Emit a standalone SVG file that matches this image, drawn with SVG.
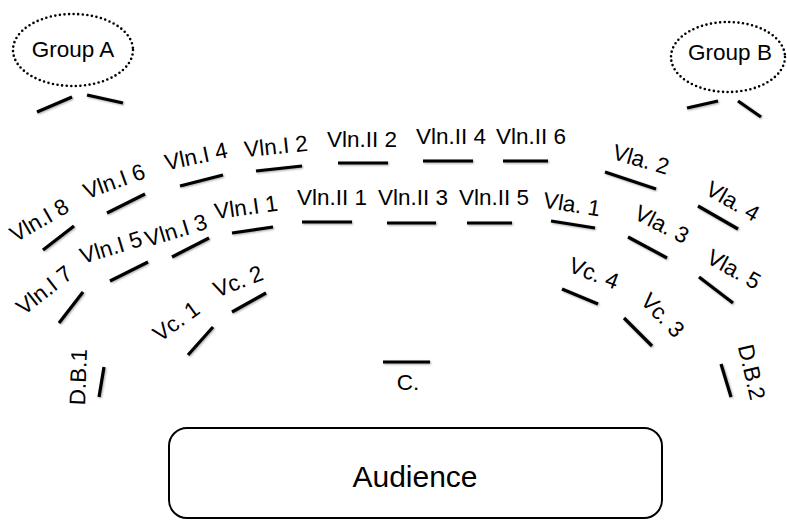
<svg xmlns="http://www.w3.org/2000/svg" width="787" height="520" viewBox="0 0 787 520">
  <defs>
    <!-- soft drop shadow under the seat marks -->
    <filter id="soft" filterUnits="userSpaceOnUse" x="0" y="0" width="787" height="520">
      <feGaussianBlur in="SourceAlpha" stdDeviation="1"/>
      <feOffset dx="0.5" dy="1"/>
      <feComponentTransfer><feFuncA type="linear" slope="0.35"/></feComponentTransfer>
      <feMerge><feMergeNode/><feMergeNode in="SourceGraphic"/></feMerge>
    </filter>
  </defs>
  <style>
    text { font-family: "Liberation Sans", Arial, sans-serif; fill: #000; }
    .lbl { font-size: 22.5px; text-anchor: middle; }
    .seat { stroke: #000; stroke-width: 3.2; stroke-linecap: butt; fill: none; filter: url(#soft); }
    .grp { fill: none; stroke: #000; stroke-width: 2.6; stroke-dasharray: 0 4.6; stroke-linecap: round; }
    .hall { fill: #fff; stroke: #000; stroke-width: 2; }
  </style>

  <rect width="787" height="520" fill="#fff"/>

  <!-- off-stage groups -->
  <g id="group-a">
    <ellipse class="grp" cx="73" cy="50" rx="60" ry="36"/>
    <text x="73" y="57" style="font-size:22.5px;text-anchor:middle">Group A</text>
    <line class="seat" x1="37" y1="112" x2="72" y2="97"/>
    <line class="seat" x1="87" y1="95" x2="123" y2="103"/>
  </g>
  <g id="group-b">
    <ellipse class="grp" cx="728" cy="57" rx="57" ry="35"/>
    <text x="730" y="60" style="font-size:22.5px;text-anchor:middle">Group B</text>
    <line class="seat" x1="687" y1="108" x2="718" y2="101"/>
    <line class="seat" x1="738" y1="101" x2="761" y2="117"/>
  </g>

  <!-- first violins -->
  <g id="vln1-8"><line class="seat" x1="43" y1="250" x2="74" y2="226"/><text class="lbl" transform="translate(39 220) rotate(-30)" dy="8">Vln.I 8</text></g>
  <g id="vln1-6"><line class="seat" x1="107" y1="213" x2="145" y2="194"/><text class="lbl" transform="translate(114 181) rotate(-20)" dy="8">Vln.I 6</text></g>
  <g id="vln1-4"><line class="seat" x1="180" y1="186" x2="223" y2="175"/><text class="lbl" transform="translate(196 156) rotate(-12)" dy="8">Vln.I 4</text></g>
  <g id="vln1-2"><line class="seat" x1="256" y1="171" x2="302" y2="166"/><text class="lbl" transform="translate(276 146) rotate(-6)" dy="8">Vln.I 2</text></g>
  <g id="vln1-1"><line class="seat" x1="232" y1="233" x2="273" y2="227"/><text class="lbl" transform="translate(246 207) rotate(-8)" dy="8">Vln.I 1</text></g>
  <g id="vln1-3"><line class="seat" x1="172" y1="257" x2="209" y2="238"/><text class="lbl" transform="translate(176 230) rotate(-17)" dy="8">Vln.I 3</text></g>
  <g id="vln1-5"><line class="seat" x1="110" y1="281" x2="148" y2="262"/><text class="lbl" transform="translate(111 247) rotate(-17)" dy="8">Vln.I 5</text></g>
  <g id="vln1-7"><line class="seat" x1="59" y1="323" x2="83" y2="292"/><text class="lbl" transform="translate(44 290) rotate(-38)" dy="8">Vln.I 7</text></g>

  <!-- second violins -->
  <g id="vln2-2"><line class="seat" x1="338" y1="163" x2="388" y2="163"/><text class="lbl" x="362" y="147">Vln.II 2</text></g>
  <g id="vln2-4"><line class="seat" x1="423" y1="161" x2="473" y2="161"/><text class="lbl" x="451" y="144">Vln.II 4</text></g>
  <g id="vln2-6"><line class="seat" x1="503" y1="161" x2="548" y2="161"/><text class="lbl" x="531" y="144">Vln.II 6</text></g>
  <g id="vln2-1"><line class="seat" x1="302" y1="222" x2="352" y2="222"/><text class="lbl" x="332" y="205">Vln.II 1</text></g>
  <g id="vln2-3"><line class="seat" x1="387" y1="223" x2="436" y2="223"/><text class="lbl" x="413" y="205">Vln.II 3</text></g>
  <g id="vln2-5"><line class="seat" x1="467" y1="223" x2="512" y2="223"/><text class="lbl" x="494" y="205">Vln.II 5</text></g>

  <!-- violas -->
  <g id="vla-1"><line class="seat" x1="551" y1="221" x2="595" y2="228"/><text class="lbl" transform="translate(572 204) rotate(9)" dy="8">Vla. 1</text></g>
  <g id="vla-2"><line class="seat" x1="605" y1="172" x2="656" y2="189"/><text class="lbl" transform="translate(641 159) rotate(16)" dy="8">Vla. 2</text></g>
  <g id="vla-3"><line class="seat" x1="628" y1="237" x2="667" y2="258"/><text class="lbl" transform="translate(662 224) rotate(27)" dy="8">Vla. 3</text></g>
  <g id="vla-4"><line class="seat" x1="698" y1="206" x2="738" y2="229"/><text class="lbl" transform="translate(733 201) rotate(30)" dy="8">Vla. 4</text></g>
  <g id="vla-5"><line class="seat" x1="699" y1="277" x2="733" y2="303"/><text class="lbl" transform="translate(734 269) rotate(29)" dy="8">Vla. 5</text></g>

  <!-- cellos -->
  <g id="vc-1"><line class="seat" x1="188" y1="355" x2="213" y2="327"/><text class="lbl" transform="translate(176 321) rotate(-36)" dy="8">Vc. 1</text></g>
  <g id="vc-2"><line class="seat" x1="232" y1="312" x2="266" y2="293"/><text class="lbl" transform="translate(238 281) rotate(-21)" dy="8">Vc. 2</text></g>
  <g id="vc-3"><line class="seat" x1="624" y1="318" x2="652" y2="346"/><text class="lbl" transform="translate(663 315) rotate(46)" dy="8">Vc. 3</text></g>
  <g id="vc-4"><line class="seat" x1="562" y1="289" x2="598" y2="304"/><text class="lbl" transform="translate(594 273) rotate(21)" dy="8">Vc. 4</text></g>

  <!-- double basses -->
  <g id="db-1"><line class="seat" x1="99" y1="397" x2="104" y2="367"/><text class="lbl" transform="translate(78 377) rotate(-88)" dy="8">D.B.1</text></g>
  <g id="db-2"><line class="seat" x1="721" y1="364" x2="731" y2="397"/><text class="lbl" transform="translate(752 372) rotate(77)" dy="8">D.B.2</text></g>

  <!-- conductor -->
  <g id="conductor"><line class="seat" x1="383" y1="362" x2="430" y2="362"/><text class="lbl" x="408" y="390">C.</text></g>

  <!-- audience -->
  <g id="audience">
    <rect class="hall" x="169" y="428" width="493" height="90" rx="18"/>
    <text x="415" y="487" style="font-size:30px;text-anchor:middle">Audience</text>
  </g>
</svg>
